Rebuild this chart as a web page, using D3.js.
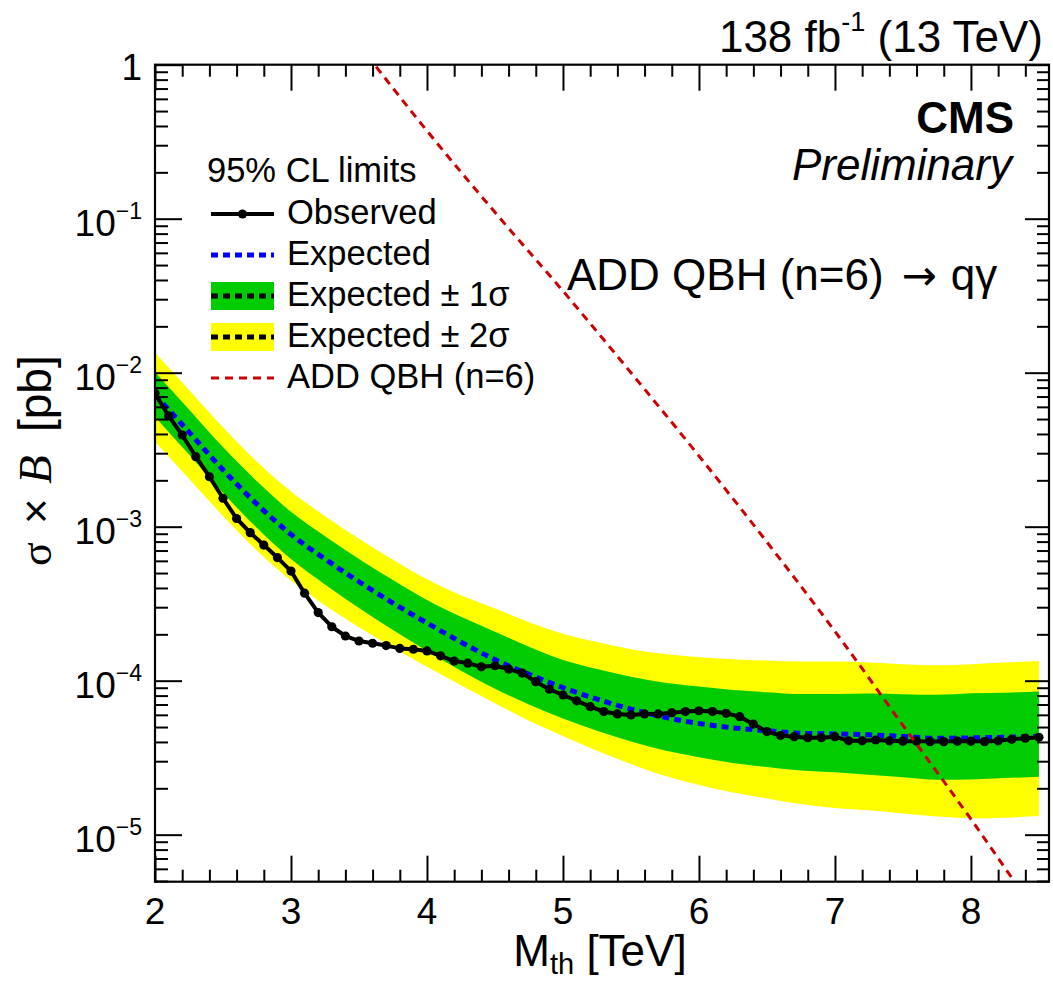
<!DOCTYPE html>
<html><head><meta charset="utf-8">
<script src="https://cdn.jsdelivr.net/npm/d3@7/dist/d3.min.js"></script>
<style>
body{margin:0;background:#fff}
svg{display:block}
text{font-family:"Liberation Sans",Arial,Helvetica,sans-serif;fill:#000}
</style>
</head><body>
<svg id="chart" width="1053" height="982"></svg>
<script>
// ---------------- DATA ----------------
const massObs = [2.0,2.1,2.2,2.3,2.4,2.5,2.6,2.7,2.8,2.9,3.0,3.1,3.2,3.3,3.4,3.5,3.6,3.7,3.8,3.9,
  4.0,4.1,4.2,4.3,4.4,4.5,4.6,4.7,4.8,4.9,5.0,5.1,5.2,5.3,5.4,5.5,5.6,5.7,5.8,5.9,
  6.0,6.1,6.2,6.3,6.4,6.5,6.6,6.7,6.8,6.9,7.0,7.1,7.2,7.3,7.4,7.5,7.6,7.7,7.8,7.9,
  8.0,8.1,8.2,8.3,8.4,8.5];
const observed = [7.35e-3,5.24e-3,3.94e-3,2.85e-3,2.11e-3,1.53e-3,1.13e-3,9.15e-4,7.6e-4,6.3e-4,
  5.15e-4,3.7e-4,2.77e-4,2.24e-4,1.95e-4,1.81e-4,1.75e-4,1.69e-4,1.62e-4,1.60e-4,
  1.56e-4,1.45e-4,1.34e-4,1.30e-4,1.23e-4,1.25e-4,1.19e-4,1.12e-4,9.85e-5,8.8e-5,
  8.07e-5,7.4e-5,6.78e-5,6.3e-5,6.08e-5,5.99e-5,6.08e-5,6.08e-5,6.2e-5,6.3e-5,
  6.38e-5,6.3e-5,6.14e-5,5.84e-5,5.23e-5,4.67e-5,4.4e-5,4.33e-5,4.26e-5,4.26e-5,
  4.33e-5,4.07e-5,4.07e-5,4.12e-5,4.07e-5,4.05e-5,4.05e-5,4.02e-5,4.02e-5,4.05e-5,
  4.05e-5,4.02e-5,4.07e-5,4.16e-5,4.23e-5,4.29e-5];

const massExp = [2.0,2.25,2.5,2.75,3.0,3.25,3.5,3.75,4.0,4.25,4.5,4.75,5.0,5.25,5.5,5.75,
  6.0,6.25,6.5,6.75,7.0,7.25,7.5,7.75,8.0,8.25,8.5];
const expected = [7.19e-3,4.11e-3,2.34e-3,1.40e-3,8.91e-4,6.17e-4,4.39e-4,3.19e-4,2.37e-4,1.78e-4,
  1.37e-4,1.10e-4,9.02e-5,7.59e-5,6.53e-5,5.78e-5,5.27e-5,4.94e-5,4.73e-5,4.55e-5,
  4.51e-5,4.45e-5,4.34e-5,4.23e-5,4.25e-5,4.29e-5,4.35e-5];
const exp2Up = [1.349e-2,7.73e-3,4.42e-3,2.64e-3,1.69e-3,1.17e-3,8.36e-4,6.10e-4,4.56e-4,3.59e-4,
  2.94e-4,2.40e-4,2.02e-4,1.78e-4,1.60e-4,1.49e-4,1.42e-4,1.38e-4,1.35e-4,1.33e-4,
  1.33e-4,1.31e-4,1.28e-4,1.26e-4,1.28e-4,1.31e-4,1.34e-4];
const exp1Up = [1.009e-2,5.77e-3,3.29e-3,1.97e-3,1.25e-3,8.67e-4,6.17e-4,4.50e-4,3.34e-4,2.60e-4,
  2.08e-4,1.66e-4,1.36e-4,1.19e-4,1.06e-4,9.70e-5,9.16e-5,8.69e-5,8.41e-5,8.18e-5,
  8.20e-5,8.24e-5,8.17e-5,8.09e-5,8.28e-5,8.36e-5,8.51e-5];
const exp1Down = [5.18e-3,2.94e-3,1.66e-3,9.8e-4,6.17e-4,4.22e-4,2.96e-4,2.13e-4,1.56e-4,1.16e-4,
  8.87e-5,7.0e-5,5.69e-5,4.73e-5,4.03e-5,3.52e-5,3.18e-5,2.92e-5,2.75e-5,2.61e-5,
  2.54e-5,2.45e-5,2.36e-5,2.27e-5,2.28e-5,2.33e-5,2.38e-5];
const exp2Down = [3.56e-3,2.05e-3,1.175e-3,7.0e-4,4.47e-4,3.09e-4,2.22e-4,1.64e-4,1.23e-4,9.33e-5,
  7.13e-5,5.50e-5,4.37e-5,3.51e-5,2.88e-5,2.41e-5,2.10e-5,1.88e-5,1.72e-5,1.58e-5,
  1.49e-5,1.44e-5,1.37e-5,1.31e-5,1.28e-5,1.29e-5,1.32e-5];

const massTheory = [3.5,4.0,4.5,5.0,5.5,6.0,6.5,7.0,7.5,8.0,8.3];
const theory = [1.35,0.372,0.110,0.0339,0.0100,2.88e-3,7.94e-4,2.09e-4,5.13e-5,1.26e-5,5.25e-6];

const xMajorTicks = [2,3,4,5,6,7,8];
const yMajorTicks = [1,1e-1,1e-2,1e-3,1e-4,1e-5];
const yTickExp = ["0","1","2","3","4","5"];

// ---------------- LAYOUT ----------------
const svg = d3.select("#chart");
const X0 = 155, X1 = 1049, Y0 = 64.7, Y1 = 881.7;
const x = d3.scaleLinear().domain([2, 8.574]).range([X0, X1]);
const y = d3.scaleLog().domain([4.95e-6, 1]).range([Y1, Y0]);

svg.append("defs").append("clipPath").attr("id","plotclip")
  .append("rect").attr("x",X0).attr("y",Y0).attr("width",X1-X0).attr("height",Y1-Y0);

const plot = svg.append("g").attr("clip-path","url(#plotclip)");

const bandRows = massExp.map((m,i)=>({m, e:expected[i], u2:exp2Up[i], u1:exp1Up[i], d1:exp1Down[i], d2:exp2Down[i]}));

const area2 = d3.area().x(d=>x(d.m)).y0(d=>y(d.d2)).y1(d=>y(d.u2)).curve(d3.curveMonotoneX);
const area1 = d3.area().x(d=>x(d.m)).y0(d=>y(d.d1)).y1(d=>y(d.u1)).curve(d3.curveMonotoneX);
plot.append("path").datum(bandRows).attr("d",area2).attr("fill","#ffff00");
plot.append("path").datum(bandRows).attr("d",area1).attr("fill","#00cc00");

const expLine = d3.line().x(d=>x(d.m)).y(d=>y(d.e)).curve(d3.curveMonotoneX);
plot.append("path").datum(bandRows).attr("d",expLine)
  .attr("fill","none").attr("stroke","#0000ff").attr("stroke-width",5).attr("stroke-dasharray","7,5");

const obsRows = massObs.map((m,i)=>({m, v:observed[i]}));
const obsLine = d3.line().x(d=>x(d.m)).y(d=>y(d.v));
plot.append("path").datum(obsRows).attr("d",obsLine)
  .attr("fill","none").attr("stroke","#000").attr("stroke-width",4).attr("stroke-linejoin","round");
plot.selectAll("circle.obs").data(obsRows).enter().append("circle").attr("class","obs")
  .attr("cx",d=>x(d.m)).attr("cy",d=>y(d.v)).attr("r",4.6).attr("fill","#000");

const thRows = massTheory.map((m,i)=>({m, v:theory[i]}));
const thLine = d3.line().x(d=>x(d.m)).y(d=>y(d.v)).curve(d3.curveMonotoneX);
plot.append("path").datum(thRows).attr("d",thLine)
  .attr("fill","none").attr("stroke","#cc0000").attr("stroke-width",3).attr("stroke-dasharray","8,6");

// ---------------- AXES ----------------
const xMinor = [];
for (let v = 2.2; v < 8.574; v += 0.2) { const r = Math.round(v*10)/10; if (Math.abs(r - Math.round(r)) > 1e-6) xMinor.push(r); }
const yMinor = [];
for (let n = -6; n <= -1; n++) for (let k = 2; k <= 9; k++) { const v = k*Math.pow(10,n); if (v >= 4.95e-6 && v < 1) yMinor.push(v); }

function styleAxis(g){
  g.select(".domain").remove();
  g.selectAll(".tick line").attr("stroke","#000").attr("stroke-width",2);
  g.selectAll(".tick text").remove();
}
svg.append("g").attr("transform",`translate(0,${Y1})`).call(d3.axisBottom(x).tickValues(xMajorTicks).tickSize(-26).tickFormat("")).call(styleAxis);
svg.append("g").attr("transform",`translate(0,${Y1})`).call(d3.axisBottom(x).tickValues(xMinor).tickSize(-12).tickFormat("")).call(styleAxis);
svg.append("g").attr("transform",`translate(0,${Y0})`).call(d3.axisTop(x).tickValues(xMajorTicks).tickSize(-26).tickFormat("")).call(styleAxis);
svg.append("g").attr("transform",`translate(0,${Y0})`).call(d3.axisTop(x).tickValues(xMinor).tickSize(-12).tickFormat("")).call(styleAxis);
svg.append("g").attr("transform",`translate(${X0},0)`).call(d3.axisLeft(y).tickValues(yMajorTicks).tickSize(-27).tickFormat("")).call(styleAxis);
svg.append("g").attr("transform",`translate(${X0},0)`).call(d3.axisLeft(y).tickValues(yMinor).tickSize(-13).tickFormat("")).call(styleAxis);
svg.append("g").attr("transform",`translate(${X1},0)`).call(d3.axisRight(y).tickValues(yMajorTicks).tickSize(-24).tickFormat("")).call(styleAxis);
svg.append("g").attr("transform",`translate(${X1},0)`).call(d3.axisRight(y).tickValues(yMinor).tickSize(-12).tickFormat("")).call(styleAxis);

// frame
svg.append("rect").attr("x",X0).attr("y",Y0).attr("width",X1-X0).attr("height",Y1-Y0)
  .attr("fill","none").attr("stroke","#000").attr("stroke-width",2.2);

// x tick labels
svg.selectAll("text.xl").data(xMajorTicks).enter().append("text").attr("class","xl")
  .attr("x",d=>x(d)).attr("y",924).attr("text-anchor","middle").attr("font-size",37).text(d=>d);

// y tick labels
yMajorTicks.forEach((v,i)=>{
  const t = svg.append("text").attr("x",142).attr("text-anchor","end").attr("font-size",37);
  if (v === 1) { t.attr("y", y(v)+15).text("1"); }
  else {
    t.attr("y", y(v)+17);
    t.append("tspan").text("10");
    t.append("tspan").attr("font-size",23).attr("dy",-17).text("\u2212"+yTickExp[i]);
  }
});

// axis titles
const xt = svg.append("text").attr("x",600).attr("y",966).attr("text-anchor","middle").attr("font-size",44);
xt.append("tspan").text("M");
xt.append("tspan").attr("font-size",29).attr("dy",8).text("th");
xt.append("tspan").attr("dy",-8).text(" [TeV]");

const serif = "'Liberation Serif','DejaVu Serif',serif";
const yt = svg.append("text").attr("transform","translate(51,568) rotate(-90)").attr("font-size",44);
yt.append("tspan").attr("x",2).attr("font-family",serif).text("\u03c3");
yt.append("tspan").attr("x",44).text("\u00d7");
yt.append("tspan").attr("x",84).attr("font-family",serif).attr("font-style","italic").attr("font-size",47).text("B");
yt.append("tspan").attr("x",136).attr("font-size",46).text("[pb]");

// top-right lumi text
const lt = svg.append("text").attr("x",1043).attr("y",52).attr("text-anchor","end").attr("font-size",44);
lt.append("tspan").text("138 fb");
lt.append("tspan").attr("font-size",27).attr("dy",-21).text("-1");
lt.append("tspan").attr("dy",21).text(" (13 TeV)");

// CMS labels
svg.append("text").attr("x",1014).attr("y",133).attr("text-anchor","end").attr("font-size",44).attr("font-weight","bold").text("CMS");
svg.append("text").attr("x",1012).attr("y",180).attr("text-anchor","end").attr("font-size",44).attr("font-style","italic").text("Preliminary");
const pt = svg.append("text").attr("x",567).attr("y",290).attr("font-size",44);
pt.append("tspan").text("ADD QBH (n=6)");
pt.append("tspan").attr("dx",18).attr("font-family","'DejaVu Sans',sans-serif").attr("font-size",42).text("\u2192");
pt.append("tspan").attr("dx",14).text("q\u03b3");

// ---------------- LEGEND ----------------
const lg = svg.append("g");
const lx0 = 211, lx1 = 274, tx = 287, rowH = 41, row0 = 214;
lg.append("text").attr("x",207).attr("y",182).attr("font-size",34.5).text("95% CL limits");
const legendLabels = ["Observed","Expected","Expected \u00b1 1\u03c3","Expected \u00b1 2\u03c3","ADD QBH (n=6)"];
legendLabels.forEach((lab,i)=>{
  const cy = row0 + i*rowH;
  if (i === 0) {
    lg.append("line").attr("x1",lx0).attr("x2",lx1).attr("y1",cy).attr("y2",cy).attr("stroke","#000").attr("stroke-width",4);
    lg.append("circle").attr("cx",(lx0+lx1)/2).attr("cy",cy).attr("r",4.6).attr("fill","#000");
  } else if (i === 1) {
    lg.append("line").attr("x1",lx0).attr("x2",lx1).attr("y1",cy).attr("y2",cy).attr("stroke","#0000ff").attr("stroke-width",5).attr("stroke-dasharray","7,5");
  } else if (i === 2 || i === 3) {
    lg.append("rect").attr("x",lx0).attr("y",cy-14).attr("width",lx1-lx0).attr("height",28).attr("fill", i===2 ? "#00cc00" : "#ffff00");
    lg.append("line").attr("x1",lx0).attr("x2",lx1).attr("y1",cy).attr("y2",cy).attr("stroke","#000").attr("stroke-width",5).attr("stroke-dasharray","7,5");
  } else {
    lg.append("line").attr("x1",lx0).attr("x2",lx1).attr("y1",cy).attr("y2",cy).attr("stroke","#cc0000").attr("stroke-width",3).attr("stroke-dasharray","8,6");
  }
  lg.append("text").attr("x",tx).attr("y",cy+10).attr("font-size",34.5).text(lab);
});
</script>
</body></html>
